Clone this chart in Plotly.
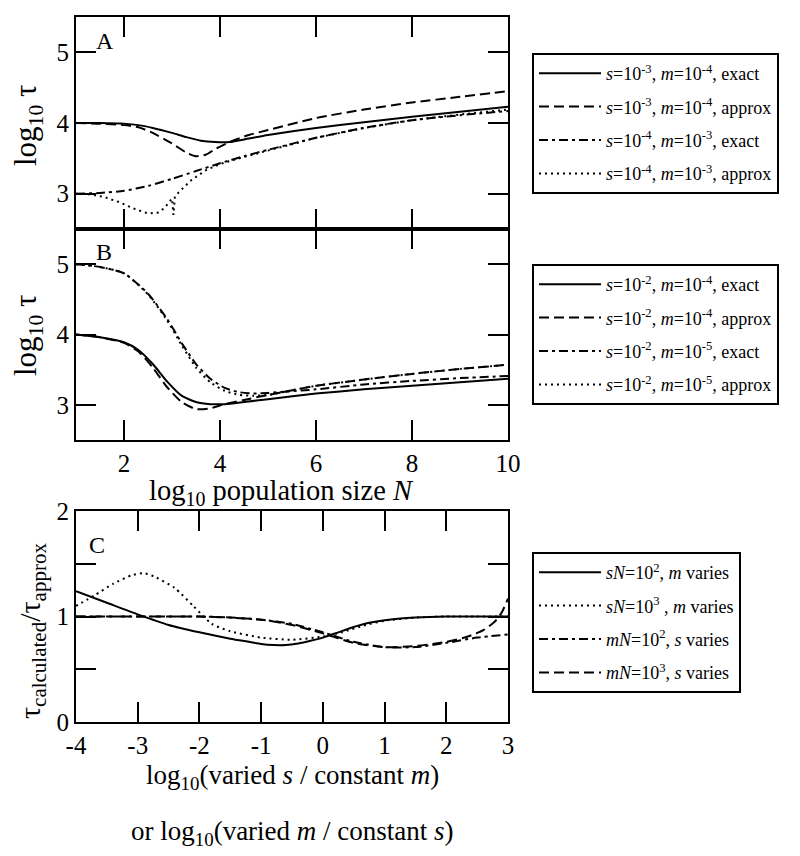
import plotly.graph_objects as go

FONT = "Liberation Serif, Times New Roman, serif"

# ---------------- Panel A data ----------------
a_solid_x = [1, 1.5, 2, 2.3, 2.6, 3.0, 3.3, 3.6, 3.9, 4.2, 4.6, 5, 6, 7, 8, 9, 10]
a_solid_y = [4.0, 4.0, 3.99, 3.97, 3.93, 3.86, 3.80, 3.75, 3.73, 3.73, 3.78, 3.83, 3.93, 4.01, 4.09, 4.16, 4.23]

a_dash_x = [1, 1.5, 2, 2.3, 2.6, 3.0, 3.3, 3.5, 3.7, 3.9, 4.2, 4.6, 5, 6, 7, 8, 9, 10]
a_dash_y = [4.0, 3.99, 3.97, 3.94, 3.86, 3.71, 3.58, 3.53, 3.55, 3.63, 3.73, 3.83, 3.90, 4.07, 4.19, 4.29, 4.37, 4.45]

a_dashdot_x = [1, 1.5, 2, 2.5, 3, 3.5, 4, 4.5, 5, 6, 7, 8, 9, 10]
a_dashdot_y = [3.0, 3.01, 3.04, 3.11, 3.21, 3.32, 3.43, 3.53, 3.62, 3.79, 3.93, 4.04, 4.11, 4.17]

a_dot_x = [1, 1.3, 1.6, 1.9, 2.2, 2.5, 2.7, 2.85, 2.95, 3.0, 3.03, 3.06, 3.2, 3.4, 3.7, 4, 4.5, 5, 6, 7, 8, 9, 10]
a_dot_y = [3.0, 2.99, 2.95, 2.88, 2.79, 2.72, 2.73, 2.80, 2.89, 2.93, 2.70, 2.96, 3.06, 3.19, 3.33, 3.42, 3.52, 3.61, 3.79, 3.93, 4.04, 4.12, 4.19]

a_names = ["<i>s</i>=10<sup>-3</sup>, <i>m</i>=10<sup>-4</sup>, exact",
           "<i>s</i>=10<sup>-3</sup>, <i>m</i>=10<sup>-4</sup>, approx",
           "<i>s</i>=10<sup>-4</sup>, <i>m</i>=10<sup>-3</sup>, exact",
           "<i>s</i>=10<sup>-4</sup>, <i>m</i>=10<sup>-3</sup>, approx"]

# ---------------- Panel B data ----------------
b_solid_x = [1, 1.5, 2, 2.3, 2.6, 2.9, 3.2, 3.5, 3.8, 4.1, 4.5, 5, 6, 7, 8, 9, 10]
b_solid_y = [4.0, 3.96, 3.89, 3.78, 3.58, 3.33, 3.13, 3.04, 3.01, 3.01, 3.04, 3.08, 3.16, 3.22, 3.27, 3.32, 3.37]

b_dash_x = [1, 1.5, 2, 2.3, 2.6, 2.9, 3.2, 3.5, 3.8, 4.1, 4.5, 5, 6, 7, 8, 9, 10]
b_dash_y = [4.0, 3.96, 3.88, 3.76, 3.53, 3.25, 3.04, 2.94, 2.95, 3.01, 3.07, 3.14, 3.27, 3.36, 3.44, 3.51, 3.57]

b_dashdot_x = [1, 1.5, 2, 2.5, 2.9, 3.2, 3.5, 3.8, 4.1, 4.4, 4.7, 5, 6, 7, 8, 9, 10]
b_dashdot_y = [5.0, 4.96, 4.87, 4.58, 4.22, 3.88, 3.58, 3.37, 3.24, 3.18, 3.16, 3.17, 3.22, 3.29, 3.34, 3.38, 3.41]

b_dot_x = [1, 1.5, 2, 2.5, 2.9, 3.2, 3.5, 3.8, 4.1, 4.4, 4.7, 5, 5.3, 6, 7, 8, 9, 10]
b_dot_y = [5.0, 4.96, 4.87, 4.57, 4.20, 3.85, 3.53, 3.32, 3.20, 3.14, 3.13, 3.14, 3.18, 3.27, 3.36, 3.44, 3.51, 3.57]

b_names = ["<i>s</i>=10<sup>-2</sup>, <i>m</i>=10<sup>-4</sup>, exact",
           "<i>s</i>=10<sup>-2</sup>, <i>m</i>=10<sup>-4</sup>, approx",
           "<i>s</i>=10<sup>-2</sup>, <i>m</i>=10<sup>-5</sup>, exact",
           "<i>s</i>=10<sup>-2</sup>, <i>m</i>=10<sup>-5</sup>, approx"]

# ---------------- Panel C data ----------------
c_solid_x = [-4, -3.5, -3, -2.5, -2, -1.5, -1.2, -1.0, -0.8, -0.6, -0.4, -0.2, 0, 0.25, 0.5, 0.75, 1, 1.5, 2, 2.5, 3]
c_solid_y = [1.24, 1.13, 1.02, 0.92, 0.85, 0.79, 0.76, 0.74, 0.73, 0.73, 0.745, 0.77, 0.80, 0.85, 0.90, 0.94, 0.965, 0.99, 1.0, 1.0, 1.0]

c_dot_x = [-4, -3.7, -3.4, -3.1, -2.9, -2.7, -2.4, -2.1, -1.8, -1.5, -1.0, -0.5, 0, 0.3, 0.7, 1, 1.5, 2, 2.5, 3]
c_dot_y = [1.10, 1.20, 1.31, 1.39, 1.41, 1.37, 1.27, 1.10, 0.93, 0.86, 0.80, 0.78, 0.81, 0.85, 0.92, 0.96, 0.99, 1.0, 1.0, 1.0]

c_dashdot_x = [-4, -3, -2, -1.5, -1, -0.5, 0, 0.5, 1, 1.5, 2, 2.5, 3]
c_dashdot_y = [1.0, 1.0, 1.0, 0.99, 0.97, 0.93, 0.85, 0.76, 0.71, 0.71, 0.75, 0.80, 0.83]

c_dash_x = [-4, -3, -2, -1.5, -1, -0.5, 0, 0.5, 1, 1.5, 2, 2.35, 2.6, 2.8, 2.9, 3]
c_dash_y = [1.0, 1.0, 1.0, 0.99, 0.97, 0.92, 0.84, 0.75, 0.71, 0.72, 0.76, 0.81, 0.87, 0.96, 1.04, 1.17]

c_names = ["<i>sN</i>=10<sup>2</sup>, <i>m</i> varies",
           "<i>sN</i>=10<sup>3</sup> , <i>m</i> varies",
           "<i>mN</i>=10<sup>2</sup>, <i>s</i> varies",
           "<i>mN</i>=10<sup>3</sup>, <i>s</i> varies"]

SOLID = "solid"
DASH = "10px,5px"
DASHDOT = "9px,4px,3px,4px"
DOT = "2px,4px"

fig = go.Figure()
gid = [0]


def add(x, y, dash, name, xa, ya, legend, shape="spline"):
    gid[0] += 1
    fig.add_trace(go.Scatter(
        x=x, y=y, mode="lines", name=name,
        line=dict(color="black", width=2, dash=dash, shape=shape,
                  **({"smoothing": 0.6} if shape == "spline" else {})),
        xaxis=xa, yaxis=ya, legend=legend, legendgroup="g%d" % gid[0]))


add(a_solid_x, a_solid_y, SOLID, a_names[0], "x", "y", "legend")
add(a_dash_x, a_dash_y, DASH, a_names[1], "x", "y", "legend")
add(a_dashdot_x, a_dashdot_y, DASHDOT, a_names[2], "x", "y", "legend")
add(a_dot_x, a_dot_y, DOT, a_names[3], "x", "y", "legend", shape="linear")

add(b_solid_x, b_solid_y, SOLID, b_names[0], "x2", "y2", "legend2")
add(b_dash_x, b_dash_y, DASH, b_names[1], "x2", "y2", "legend2")
add(b_dashdot_x, b_dashdot_y, DASHDOT, b_names[2], "x2", "y2", "legend2")
add(b_dot_x, b_dot_y, DOT, b_names[3], "x2", "y2", "legend2")

add(c_solid_x, c_solid_y, SOLID, c_names[0], "x3", "y3", "legend3")
add(c_dot_x, c_dot_y, DOT, c_names[1], "x3", "y3", "legend3")
add(c_dashdot_x, c_dashdot_y, DASHDOT, c_names[2], "x3", "y3", "legend3")
add(c_dash_x, c_dash_y, DASH, c_names[3], "x3", "y3", "legend3")

W, H = 800, 856
OFF = 8  # page body margin of the html page


def px(x):
    return (x - OFF) / W


def py(y):
    return 1 - (y - OFF) / H


XDOM = [px(76), px(508)]


def ydom(top, bottom):
    return [py(bottom), py(top)]


axis_common = dict(showline=True, linecolor="black", linewidth=2, mirror="allticks",
                   ticks="inside", ticklen=20, tickwidth=2, tickcolor="black",
                   showgrid=False, zeroline=False, automargin=False,
                   tickfont=dict(family=FONT, size=25, color="black"))

legend_common = dict(xanchor="left", yanchor="top", bordercolor="black", borderwidth=2,
                     bgcolor="white", font=dict(family=FONT, size=18, color="black"),
                     tracegroupgap=7, itemwidth=62)

fig.update_layout(
    width=W, height=H, margin=dict(l=0, r=0, t=0, b=0, autoexpand=False),
    paper_bgcolor="white", plot_bgcolor="white",
    font=dict(family=FONT, color="black"),
    showlegend=True,
    xaxis=dict(domain=XDOM, anchor="y", range=[1, 10], tickvals=[2, 4, 6, 8, 10],
               showticklabels=False, **axis_common),
    yaxis=dict(domain=ydom(17, 229), anchor="x", range=[2.5, 5.5], tickvals=[3, 4, 5], **axis_common),
    xaxis2=dict(domain=XDOM, anchor="y2", range=[1, 10], tickvals=[2, 4, 6, 8, 10], **axis_common),
    yaxis2=dict(domain=ydom(229, 440), anchor="x2", range=[2.5, 5.5], tickvals=[3, 4, 5], **axis_common),
    xaxis3=dict(domain=XDOM, anchor="y3", range=[-4, 3], tickvals=[-4, -3, -2, -1, 0, 1, 2, 3],
                ticktext=["-4", "-3", "-2", "-1", "0", "1", "2", "3"], **axis_common),
    yaxis3=dict(domain=ydom(511, 722), anchor="x3", range=[0, 2], tickvals=[0, 0.5, 1, 1.5, 2],
                ticktext=["0", "", "1", "", "2"], **axis_common),
    legend=dict(x=px(532), y=py(53), **legend_common),
    legend2=dict(x=px(532), y=py(264), **legend_common),
    legend3=dict(x=px(532), y=py(552), **legend_common),
)

ann = []


def text(x, y, s, size=29, angle=0, xanchor="center", yanchor="middle"):
    ann.append(dict(x=px(x), y=py(y), xref="paper", yref="paper", text=s, showarrow=False,
                    textangle=angle, xanchor=xanchor, yanchor=yanchor,
                    font=dict(family=FONT, size=size, color="black")))


text(28, 125, "log<sub>10</sub> τ", size=31, angle=-90)
text(28, 335, "log<sub>10</sub> τ", size=31, angle=-90)
text(32, 631, "τ<sub>calculated</sub>/τ<sub>approx</sub>", size=30, angle=-90)
text(281, 493, "log<sub>10</sub> population size <i>N</i>", size=28.5)
text(292, 777, "log<sub>10</sub>(varied <i>s</i> / constant <i>m</i>)", size=27)
text(292, 833, "or log<sub>10</sub>(varied <i>m</i> / constant <i>s</i>)", size=27)
text(94, 41, "A", size=24, xanchor="left")
text(94, 252, "B", size=24, xanchor="left")
text(87, 545, "C", size=24, xanchor="left")

fig.update_layout(annotations=ann)

fig.write_html("out.html")
